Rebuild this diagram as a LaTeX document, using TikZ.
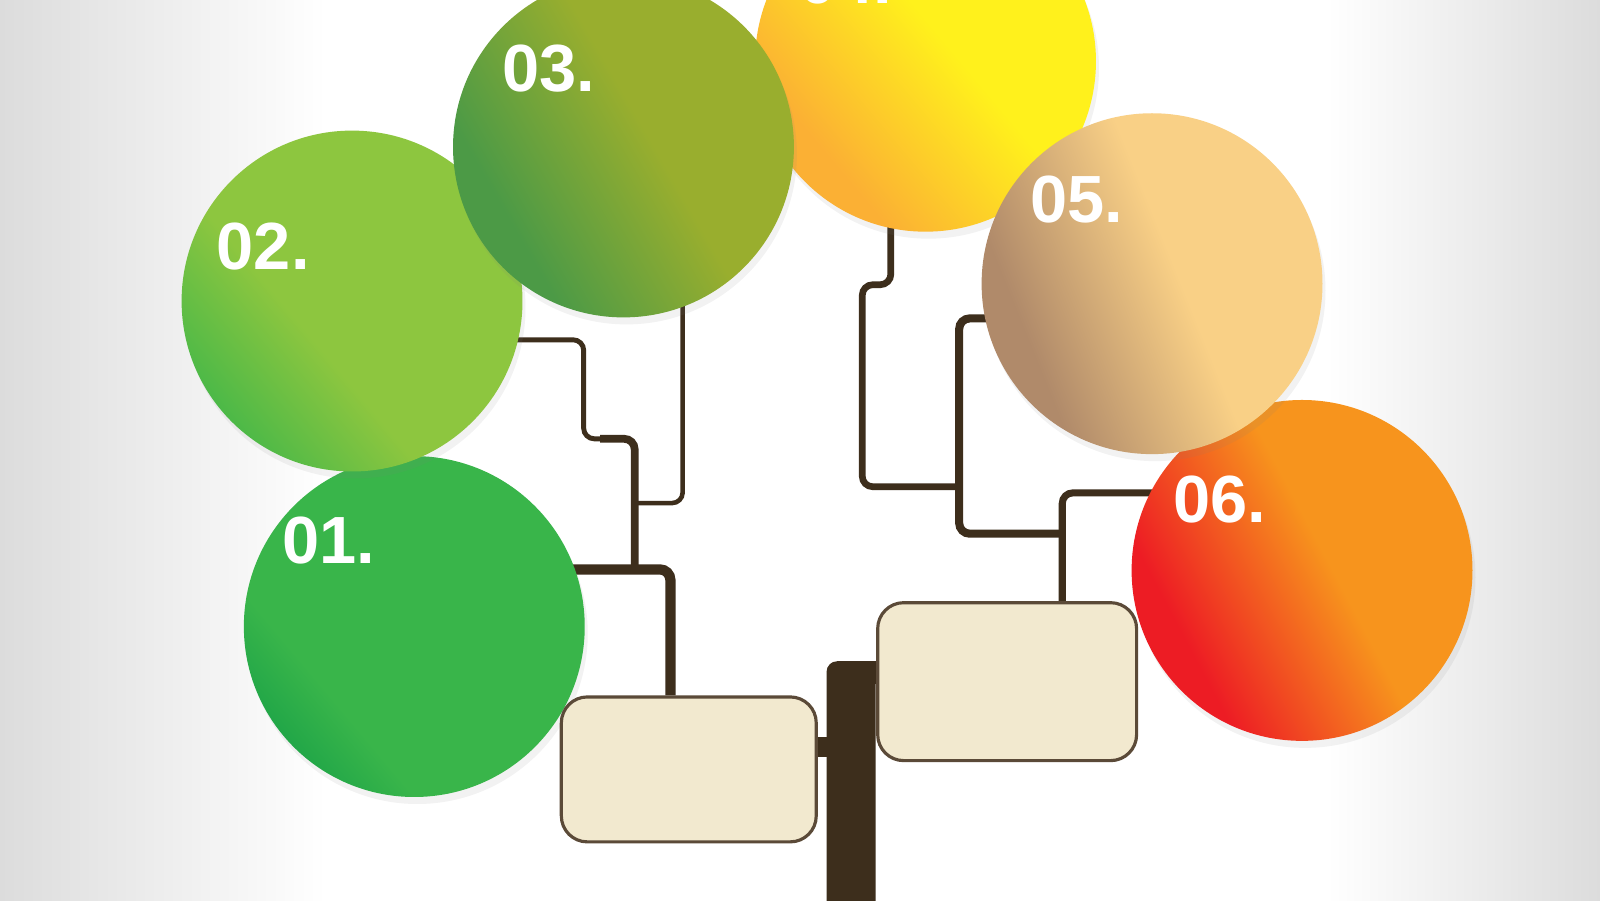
\documentclass[tikz,border=0pt]{standalone}
\usepackage{fontspec}
\newfontfamily\leaffont{Liberation Sans}
\usepackage{tikz}
\usetikzlibrary{shadows,calc,backgrounds}

\definecolor{bark}{HTML}{3D2E1C}
\definecolor{boxfill}{HTML}{F2E9CF}
\definecolor{boxline}{HTML}{5B4A38}
\definecolor{paperedge}{HTML}{DCDCDC}
\definecolor{c01lo}{HTML}{009245}
\definecolor{c01hi}{HTML}{39B54A}
\definecolor{c02lo}{HTML}{39B54A}
\definecolor{c02hi}{HTML}{8DC63F}
\definecolor{c03lo}{HTML}{4C9A46}
\definecolor{c03hi}{HTML}{99AE2E}
\definecolor{c04lo}{HTML}{FBB034}
\definecolor{c04hi}{HTML}{FFF11C}
\definecolor{c05lo}{HTML}{B08A6A}
\definecolor{c05hi}{HTML}{F9D086}
\definecolor{c06lo}{HTML}{ED1C24}
\definecolor{c06hi}{HTML}{F7941D}
\colorlet{leaflo}{black}
\colorlet{leafhi}{white}

\pgfdeclareverticalshading[leaflo,leafhi]{leafshade}{100bp}{color(0bp)=(leaflo); color(20bp)=(leaflo); color(42bp)=(leafhi); color(100bp)=(leafhi)}
\pgfdeclareverticalshading[leaflo,leafhi]{leafshadewide}{100bp}{color(0bp)=(leaflo); color(30bp)=(leaflo); color(54bp)=(leafhi); color(100bp)=(leafhi)}
\pgfdeclareverticalshading[leaflo,leafhi]{leafshadeedge}{100bp}{color(0bp)=(leaflo); color(12bp)=(leaflo); color(34bp)=(leafhi); color(100bp)=(leafhi)}

\begin{document}
\begin{tikzpicture}[x=0.010204cm,y=-0.010204cm,
  leaf/.style 2 args={circle, minimum size=3.41cm, inner sep=0pt,
    /utils/exec={\colorlet{leaflo}{#1}\colorlet{leafhi}{#2}},
    shade, shading=leafshade, shading angle=-50,
    drop shadow={opacity=0.1, shadow xshift=0.3mm, shadow yshift=-0.7mm}},
  num/.style={text=white, inner sep=0pt, font=\leaffont\bfseries\fontsize{19}{19}\selectfont},
  card/.style={draw=boxline, line width=0.9pt, fill=boxfill, rounded corners=0.26cm, inner sep=0pt},
  twig/.style={draw=bark, rounded corners=3pt}]
\useasboundingbox (0,0) rectangle (1568,882);
% leaves
\node[leaf={c01lo}{c01hi}, shading=leafshadeedge] (c1) at (406,614) {};
\node[leaf={c02lo}{c02hi}] (c2) at (345,295) {};
\node[leaf={c04lo}{c04hi}, shading=leafshadewide] (c4) at (907,60) {};
\node[leaf={c03lo}{c03hi}, shading=leafshadewide, shading angle=-60] (c3) at (611,144) {};
\node[leaf={c06lo}{c06hi}, shading=leafshadewide, shading angle=-62] (c6) at (1276,559) {};
\node[leaf={c05lo}{c05hi}, shading=leafshadewide, shading angle=-68] (c5) at (1129,278) {};
\node[num] (n1) at ($(c1)+(-84,-84)$) {01.};
\node[num] (n2) at ($(c2)+(-87,-53)$) {02.};
\node[num] (n3) at ($(c3)+(-73,-77)$) {03.};
\node[num] (n4) at ($(c4)+(-78,-79)$) {04.};
\node[num] (n5) at ($(c5)+(-74,-82)$) {05.};
\node[num] (n6) at ($(c6)+(-81,-69)$) {06.};
% boxes
\node[card, minimum width=2.55cm, minimum height=1.45cm] (lbox) at (675,754) {};
\node[card, minimum width=2.59cm, minimum height=1.58cm] (rbox) at (987,668) {};
\begin{scope}[on background layer]
\fill[white] (0,0) rectangle (1568,882);
\shade[left color=paperedge, right color=white] (0,0) rectangle (320,882);
\shade[left color=white, right color=paperedge] (1300,0) rectangle (1568,882);
\coordinate (j1) at (622,558);
\coordinate (j3) at (622,493);
\coordinate (j5) at (940,477);
\coordinate (j6) at (1041,523);
\fill[bark, rounded corners=3pt] (810,900) rectangle (858,648);
\fill[bark] (840,648) rectangle (858,670);
\path[twig, line width=1.4pt] (c2.center) ++(0,38) -| (572,430) -- (598,430);
\path[twig, line width=2.2pt] (588,430) -| (j1);
\path[twig, line width=1.3pt] (c3.center) ++(58,0) |- (j3);
\path[twig, line width=2.9pt] (c1.center) ++(0,-56) -| ($(lbox.north)+(-18,0)$);
\path[twig, line width=5.8pt] ($(lbox.east)+(0,-22)$) -- ++(20,0);
\path[twig, line width=1.9pt] (c4.center) ++(-34,0) |- (845,279) |- (j5);
\path[twig, line width=2.3pt] (c5.center) ++(0,34) -| (940,523) -- (j6);
\path[twig, line width=2pt] (c6.center) ++(0,-76) -| ($(rbox.north)+(54,0)$);
\end{scope}
\end{tikzpicture}
\end{document}
